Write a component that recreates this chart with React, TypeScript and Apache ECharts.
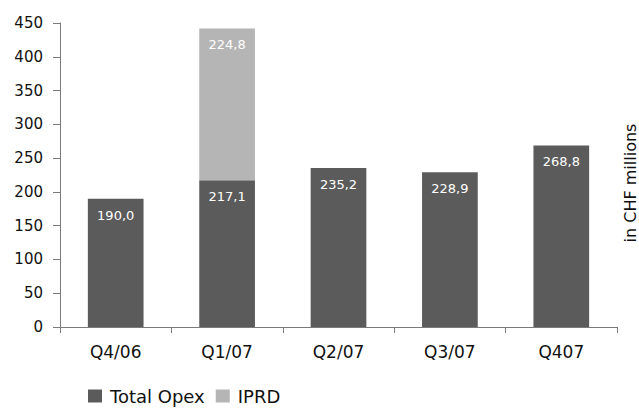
import React, { useEffect, useRef } from "react";
import * as echarts from "echarts";

const categories = ["Q4/06", "Q1/07", "Q2/07", "Q3/07", "Q407"];
const totalOpex = [190.0, 217.1, 235.2, 228.9, 268.8];
const iprd: (number | null)[] = [null, 224.8, null, null, null];
const yTicks = { min: 0, max: 450, interval: 50 };

const fmt = (p: any) =>
  p.value == null ? "" : Number(p.value).toFixed(1).replace(".", ",");

export default function App() {
  const ref = useRef<HTMLDivElement>(null);
  useEffect(() => {
    if (!ref.current) return;
    const chart = echarts.init(ref.current, null, { renderer: "svg" });
    const font = "DejaVu Sans, sans-serif";
    const barLabel = {
      show: true,
      position: "insideTop",
      distance: 10,
      color: "#fff",
      fontSize: 13,
      fontFamily: font,
      formatter: fmt,
    };
    chart.setOption({
      animation: false,
      textStyle: { fontFamily: font },
      grid: { left: 60, right: 22, top: 23, bottom: 81, containLabel: false },
      legend: {
        left: 88,
        top: 387,
        padding: 0,
        itemWidth: 14,
        itemHeight: 13,
        itemGap: 11,
        icon: "rect",
        textStyle: { fontSize: 18, color: "#111", fontFamily: font, padding: [0, 0, 0, 3] },
        data: ["Total Opex", "IPRD"],
      },
      xAxis: {
        type: "category",
        data: categories,
        axisLine: { lineStyle: { color: "#7a7a7a", width: 1 } },
        axisTick: { show: true, length: 6, lineStyle: { color: "#7a7a7a" } },
        axisLabel: { fontSize: 17, color: "#111", margin: 16, fontFamily: font },
      },
      yAxis: {
        type: "value",
        min: yTicks.min,
        max: yTicks.max,
        interval: yTicks.interval,
        splitLine: { show: false },
        axisLine: { show: true, lineStyle: { color: "#7a7a7a", width: 1 } },
        axisTick: { show: true, length: 7, lineStyle: { color: "#7a7a7a" } },
        axisLabel: { fontSize: 15, color: "#111", margin: 17, fontFamily: font },
      },
      graphic: [
        {
          type: "text",
          x: 630,
          y: 183,
          rotation: Math.PI / 2,
          style: {
            text: "in CHF millions",
            fontSize: 16,
            fill: "#111",
            fontFamily: font,
            align: "center",
            verticalAlign: "middle",
          },
        },
      ],
      series: [
        {
          name: "Total Opex",
          type: "bar",
          stack: "total",
          data: totalOpex,
          barWidth: "50%",
          itemStyle: { color: "#5b5b5b" },
          label: barLabel,
        },
        {
          name: "IPRD",
          type: "bar",
          stack: "total",
          data: iprd,
          barWidth: "50%",
          itemStyle: { color: "#b5b5b5" },
          label: barLabel,
        },
      ],
    });
    return () => chart.dispose();
  }, []);
  return <div ref={ref} style={{ width: 639, height: 408, position: "absolute", left: 0, top: 0 }} />;
}
